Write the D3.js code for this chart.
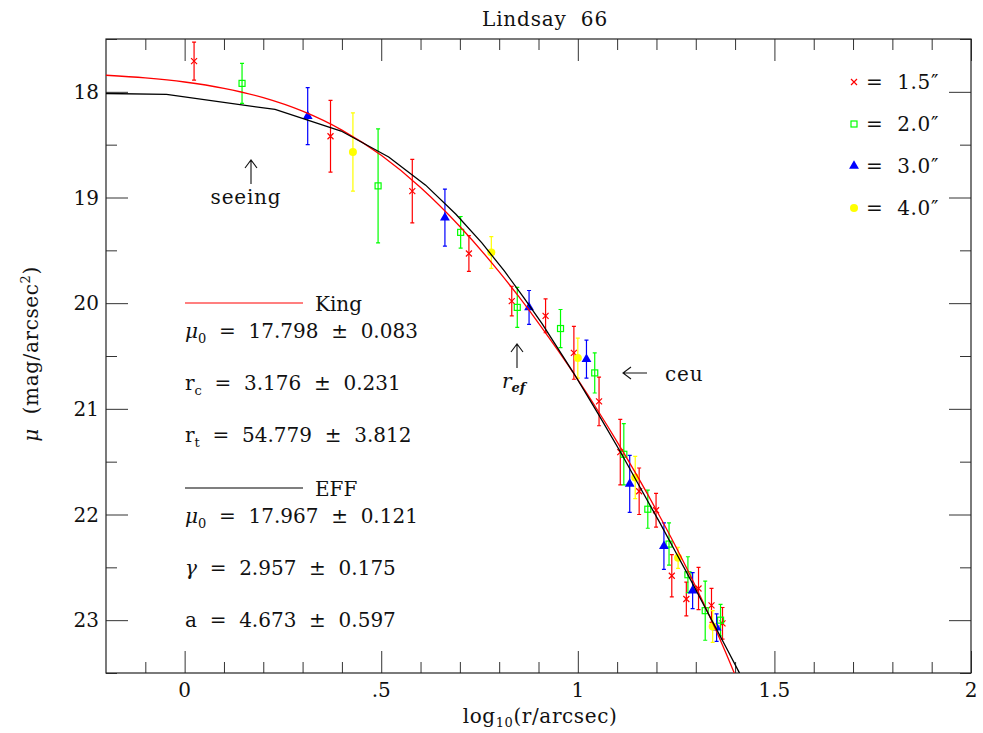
<!DOCTYPE html>
<html>
<head>
<meta charset="utf-8">
<script src="https://cdn.jsdelivr.net/npm/d3@7"></script>
<style>
  body { margin: 0; background: #fff; }
  text { font-family: "DejaVu Serif", serif; fill: #111; white-space: pre; }
</style>
</head>
<body>
<div id="chart"></div>
<script>
// data: log10(r) and mu with error
const red15X   = [0.024, 0.371, 0.579, 0.723, 0.832, 0.918, 0.990, 1.054, 1.108, 1.156, 1.199, 1.239, 1.276, 1.307, 1.340, 1.368];
const red15Mu  = [17.71, 18.42, 18.94, 19.53, 19.98, 20.12, 20.47, 20.93, 21.41, 21.78, 21.96, 22.58, 22.80, 22.70, 22.86, 23.03];
const red15Err = [0.18, 0.34, 0.30, 0.17, 0.14, 0.16, 0.25, 0.23, 0.31, 0.22, 0.16, 0.20, 0.16, 0.20, 0.16, 0.15];

const grn20X   = [0.146, 0.492, 0.702, 0.846, 0.956, 1.043, 1.117, 1.178, 1.232, 1.280, 1.324, 1.363];
const grn20Mu  = [17.92, 18.89, 19.33, 20.04, 20.24, 20.66, 21.43, 21.95, 22.28, 22.57, 22.91, 23.00];
const grn20Err = [0.19, 0.54, 0.15, 0.19, 0.18, 0.19, 0.29, 0.18, 0.20, 0.17, 0.28, 0.15];

const blu30X   = [0.313, 0.662, 0.876, 1.022, 1.132, 1.219, 1.292, 1.353];
const blu30Mu  = [18.23, 19.19, 20.04, 20.53, 21.71, 22.30, 22.72, 23.07];
const blu30Err = [0.27, 0.27, 0.16, 0.18, 0.27, 0.22, 0.17, 0.13];

const yel40X   = [0.428, 0.780, 1.000, 1.146, 1.255, 1.343];
const yel40Mu  = [18.57, 19.52, 20.52, 21.65, 22.41, 23.06];
const yel40Err = [0.37, 0.15, 0.19, 0.20, 0.10, 0.15];

// King fit curve
const kingX  = [-0.2, -0.1, 0.0, 0.1, 0.2, 0.3, 0.4, 0.5, 0.6, 0.7, 0.8, 0.85, 0.9, 0.95, 1.0, 1.05, 1.1, 1.15, 1.2, 1.25, 1.3, 1.35, 1.4, 1.42];
const kingMu = [17.843, 17.868, 17.907, 17.967, 18.055, 18.183, 18.362, 18.601, 18.905, 19.274, 19.704, 19.939, 20.188, 20.450, 20.724, 21.011, 21.312, 21.628, 21.960, 22.310, 22.683, 23.084, 23.520, 23.707];

// EFF fit curve (coarsely sampled)
const effX  = [-1.0, -0.046, 0.230, 0.398, 0.519, 0.613, 0.690, 0.756, 0.813, 0.863, 0.909, 0.987, 1.053, 1.111, 1.161, 1.207, 1.248, 1.286, 1.320, 1.352, 1.382, 1.410, 1.423];
const effMu = [17.968, 18.025, 18.167, 18.371, 18.616, 18.883, 19.158, 19.430, 19.695, 19.950, 20.194, 20.647, 21.055, 21.425, 21.761, 22.068, 22.350, 22.612, 22.854, 23.080, 23.292, 23.492, 23.587];

const xMajor = [0, 0.5, 1, 1.5, 2];
const xTickLabels = ["0", ".5", "1", "1.5", "2"];
const xMinor = d3.range(-0.1, 2.0, 0.1).map(d => +d.toFixed(1)).filter(d => !xMajor.includes(d));
const yMajor = [18, 19, 20, 21, 22, 23];
const yMinor = [17.5, 18.5, 19.5, 20.5, 21.5, 22.5, 23.5];

const legendLabels = ["1.5\u2033", "2.0\u2033", "3.0\u2033", "4.0\u2033"];
const seriesColors = ["#ff0000", "#00ff00", "#0000ff", "#ffff00"];

const kingLines = [
  ["\u03bc", "0", "  =  17.798  \u00b1  0.083"],
  ["r", "c", "  =  3.176  \u00b1  0.231"],
  ["r", "t", "  =  54.779  \u00b1  3.812"]
];
const effLines = [
  ["\u03bc", "0", "  =  17.967  \u00b1  0.121"],
  ["\u03b3", "", "  =  2.957  \u00b1  0.175"],
  ["a", "", "  =  4.673  \u00b1  0.597"]
];

const width = 983, height = 733;
const L = 106, R = 971, T = 39, B = 673;
const fs = 20;

const svg = d3.select("#chart").append("svg")
  .attr("width", width).attr("height", height)
  .attr("viewBox", `0 0 ${width} ${height}`);

const x = d3.scaleLinear().domain([-0.2, 2]).range([L, R]);
const y = d3.scaleLinear().domain([17.5, 23.5]).range([T, B]);

svg.append("clipPath").attr("id", "clip")
  .append("rect").attr("x", L).attr("y", T).attr("width", R - L).attr("height", B - T);

// ticks on all four sides, pointing in
function drawTicks(axisFn, scale, vals, size, tr) {
  const g = svg.append("g").attr("transform", tr)
    .call(axisFn(scale).tickValues(vals).tickSize(-size).tickFormat(""));
  g.select(".domain").remove();
  g.selectAll("line").attr("stroke", "#333").attr("stroke-width", 1);
  return g;
}
drawTicks(d3.axisBottom, x, xMajor, 22, `translate(0,${B})`);
drawTicks(d3.axisBottom, x, xMinor, 11, `translate(0,${B})`);
drawTicks(d3.axisTop, x, xMajor, 22, `translate(0,${T})`);
drawTicks(d3.axisTop, x, xMinor, 11, `translate(0,${T})`);
drawTicks(d3.axisLeft, y, yMajor, 22, `translate(${L},0)`);
drawTicks(d3.axisLeft, y, yMinor, 11, `translate(${L},0)`);
drawTicks(d3.axisRight, y, yMajor, 22, `translate(${R},0)`);
drawTicks(d3.axisRight, y, yMinor, 11, `translate(${R},0)`);

svg.append("rect").attr("x", L).attr("y", T).attr("width", R - L).attr("height", B - T)
  .attr("fill", "none").attr("stroke", "#222").attr("stroke-width", 1.2);

// tick labels
svg.append("g").selectAll("text").data(xMajor).join("text")
  .attr("x", d => x(d)).attr("y", B + 24)
  .attr("text-anchor", "middle").attr("font-size", fs)
  .text((d, i) => xTickLabels[i]);
svg.append("g").selectAll("text").data(yMajor).join("text")
  .attr("x", L - 7).attr("y", d => y(d) + 7)
  .attr("text-anchor", "end").attr("font-size", fs)
  .text(d => d);

// axis titles
svg.append("text").attr("x", 545).attr("y", 26).attr("text-anchor", "middle")
  .attr("font-size", fs).attr("letter-spacing", 0.8).text("Lindsay  66");
const xl = svg.append("text").attr("x", 540).attr("y", 723).attr("text-anchor", "middle")
  .attr("font-size", fs).attr("letter-spacing", 0.6);
xl.append("tspan").text("log");
xl.append("tspan").attr("font-size", 13).attr("dy", 4).text("10");
xl.append("tspan").attr("dy", -4).text("(r/arcsec)");
const yl = svg.append("text").attr("transform", "translate(38,354) rotate(-90)")
  .attr("text-anchor", "middle").attr("font-size", fs).attr("letter-spacing", 0.6);
yl.append("tspan").attr("font-style", "italic").text("\u03bc");
yl.append("tspan").text("  (mag/arcsec");
yl.append("tspan").attr("font-size", 13).attr("dy", -8).text("2");
yl.append("tspan").attr("dy", 8).text(")");

// data points
const series = [
  { xs: red15X, mu: red15Mu, err: red15Err, shape: "cross" },
  { xs: grn20X, mu: grn20Mu, err: grn20Err, shape: "square" },
  { xs: blu30X, mu: blu30Mu, err: blu30Err, shape: "triangle" },
  { xs: yel40X, mu: yel40Mu, err: yel40Err, shape: "circle" }
];

function drawMarker(g, shape, color) {
  if (shape === "cross") {
    g.append("path").attr("d", "M-3,-3L3,3M-3,3L3,-3").attr("stroke", color).attr("stroke-width", 1.2).attr("fill", "none");
  } else if (shape === "square") {
    g.append("rect").attr("x", -3).attr("y", -3).attr("width", 6).attr("height", 6)
      .attr("fill", "none").attr("stroke", color).attr("stroke-width", 1.2);
  } else if (shape === "triangle") {
    g.append("path").attr("d", d3.symbol(d3.symbolTriangle, 42)()).attr("fill", color);
  } else {
    g.append("circle").attr("r", 4).attr("fill", color);
  }
}

const pts = svg.append("g").attr("clip-path", "url(#clip)");
series.forEach((s, k) => {
  const color = seriesColors[k];
  s.xs.forEach((xv, i) => {
    const cx = x(xv), y1 = y(s.mu[i] - s.err[i]), y2 = y(s.mu[i] + s.err[i]);
    pts.append("path")
      .attr("d", `M${cx},${y1}V${y2}M${cx - 2},${y1}H${cx + 2}M${cx - 2},${y2}H${cx + 2}`)
      .attr("stroke", color).attr("stroke-width", 1.2).attr("fill", "none");
    drawMarker(pts.append("g").attr("transform", `translate(${cx},${y(s.mu[i])})`), s.shape, color);
  });
});

// fitted curves
const curves = svg.append("g").attr("clip-path", "url(#clip)");
curves.append("path")
  .attr("d", d3.line().x(d => x(d[0])).y(d => y(d[1])).curve(d3.curveMonotoneX)(d3.zip(kingX, kingMu)))
  .attr("fill", "none").attr("stroke", "#ff0000").attr("stroke-width", 1.3);
curves.append("path")
  .attr("d", d3.line().x(d => x(d[0])).y(d => y(d[1]))(d3.zip(effX, effMu)))
  .attr("fill", "none").attr("stroke", "#000").attr("stroke-width", 1.3);

// legend (top right)
legendLabels.forEach((lab, k) => {
  const ly = 82 + k * 42;
  drawMarker(svg.append("g").attr("transform", `translate(854,${ly})`), series[k].shape, seriesColors[k]);
  svg.append("text").attr("x", 866).attr("y", ly + 7).attr("font-size", fs)
    .attr("letter-spacing", 0.6).text("=  " + lab);
});

// fit parameter block
function paramBlock(y0, color, name, lines) {
  svg.append("line").attr("x1", 185).attr("x2", 303).attr("y1", y0).attr("y2", y0)
    .attr("stroke", color).attr("stroke-width", 1.2);
  svg.append("text").attr("x", 315).attr("y", y0 + 8).attr("font-size", fs).text(name);
  lines.forEach((ln, i) => {
    const t = svg.append("text").attr("x", 185).attr("y", y0 + 35 + i * 52).attr("font-size", fs);
    t.append("tspan").attr("font-style", ln[0] === "r" || ln[0] === "a" ? "normal" : "italic").text(ln[0]);
    if (ln[1]) {
      t.append("tspan").attr("font-size", 13).attr("dy", 5).text(ln[1]);
      t.append("tspan").attr("dy", -5).text(ln[2]);
    } else {
      t.append("tspan").text(ln[2]);
    }
  });
}
paramBlock(303, "#ff0000", "King", kingLines);
paramBlock(488, "#000", "EFF", effLines);

// annotations
function upArrow(ax, ytip) {
  svg.append("path").attr("d", `M${ax},${ytip}V${ytip + 24}M${ax - 6},${ytip + 8}L${ax},${ytip}L${ax + 6},${ytip + 8}`)
    .attr("stroke", "#111").attr("stroke-width", 1.1).attr("fill", "none");
}
upArrow(251, 160);
svg.append("text").attr("x", 246).attr("y", 204).attr("text-anchor", "middle")
  .attr("font-size", fs).attr("letter-spacing", 0.8).text("seeing");
upArrow(517, 344);
const ref = svg.append("text").attr("x", 502).attr("y", 388).attr("font-size", fs).attr("font-style", "italic");
ref.append("tspan").text("r");
ref.append("tspan").attr("font-size", 13).attr("dy", 4).attr("font-weight", "bold").text("ef");

svg.append("path").attr("d", "M623,373H647M631,367L623,373L631,379")
  .attr("stroke", "#111").attr("stroke-width", 1.1).attr("fill", "none");
svg.append("text").attr("x", 665).attr("y", 381).attr("font-size", fs).attr("letter-spacing", 0.8).text("ceu");
</script>
</body>
</html>
